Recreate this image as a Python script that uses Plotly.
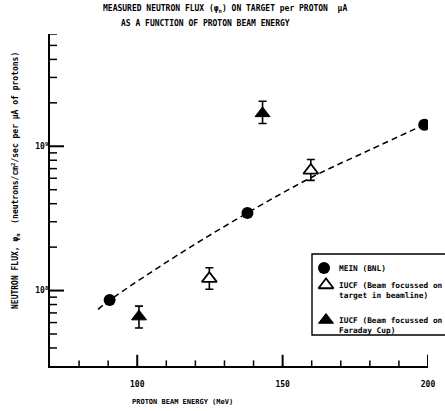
import math
import plotly.graph_objects as go

# ---- data ----
mein_energy = [90.5, 137.9, 198.7]
mein_flux = [8.6e7, 3.45e8, 1.41e9]

iucf_target_energy = [124.8, 159.7]
iucf_target_flux = [1.21e8, 6.8e8]
iucf_target_err_plus = [0.23e8, 1.3e8]
iucf_target_err_minus = [0.19e8, 1.0e8]

iucf_cup_energy = [100.6, 143.1]
iucf_cup_flux = [6.6e7, 1.69e9]
iucf_cup_err_plus = [1.2e7, 0.36e9]
iucf_cup_err_minus = [1.1e7, 0.25e9]

fit_energy = [86.5, 90.5, 115, 137.9, 160, 180, 198.7]
fit_flux = [7.41e7, 8.57e7, 1.82e8, 3.45e8, 6.1e8, 9.44e8, 1.41e9]

legend_labels = [
    ["MEIN (BNL)"],
    ["IUCF (Beam focussed on", "target in beamline)"],
    ["IUCF (Beam focussed on", "Faraday Cup)"],
]

x_major_ticks = [100, 150, 200]
x_minor_ticks = [80, 90, 110, 120, 130, 140, 160, 170, 180, 190]
y_major_ticks = [1e8, 1e9]
y_major_text = ["10<sup>8</sup>", "10<sup>9</sup>"]
y_minor_ticks = [4e7, 5e7, 6e7, 7e7, 8e7, 9e7,
                 2e8, 3e8, 4e8, 5e8, 6e8, 7e8, 8e8, 9e8,
                 2e9, 3e9, 4e9, 5e9, 6e9]

X_RANGE = [70, 200]
Y_MIN, Y_MAX = 3e7, 6e9

# ---- layout geometry (pixels) ----
W, H = 445, 411
L, R, T, B = 50, 17, 34, 45
PW, PH = W - L - R, H - T - B

def px(x):
    return (x - L) / PW

def py(y):
    return (H - B - y) / PH

FONT = "DejaVu Sans Mono"
TICKFONT = dict(family=FONT, size=8, color="black", weight="bold")

circle_marker = dict(symbol="circle", size=12, color="black")
open_tri_marker = dict(symbol="triangle-up", size=13, color="white",
                       line=dict(color="black", width=1.8))
filled_tri_marker = dict(symbol="triangle-up", size=13, color="black",
                         line=dict(color="black", width=1))

fig = go.Figure()

# ---- inward tick marks: line markers centred on the axis, outer half clipped ----
def tick_marks(xs, ys, symbol, length, width):
    fig.add_trace(go.Scatter(
        x=xs, y=ys, mode="markers", cliponaxis=True, showlegend=False,
        hoverinfo="skip",
        marker=dict(symbol=symbol, size=2 * length, color="black",
                    line=dict(color="black", width=width))))

tick_marks([X_RANGE[0]] * len(y_major_ticks), y_major_ticks, "line-ew", 10, 2)
tick_marks([X_RANGE[0]] * len(y_minor_ticks), y_minor_ticks, "line-ew", 5, 1.5)
tick_marks(x_major_ticks, [Y_MIN] * len(x_major_ticks), "line-ns", 8, 2)
tick_marks(x_minor_ticks, [Y_MIN] * len(x_minor_ticks), "line-ns", 4, 1.5)

fig.add_trace(go.Scatter(
    x=fit_energy, y=fit_flux, mode="lines", line_shape="spline",
    line=dict(color="black", width=1.5, dash="6px,4px"),
    showlegend=False, hoverinfo="skip"))

fig.add_trace(go.Scatter(
    x=mein_energy, y=mein_flux, mode="markers", name=legend_labels[0][0],
    marker=circle_marker, showlegend=False))

fig.add_trace(go.Scatter(
    x=iucf_target_energy, y=iucf_target_flux, mode="markers",
    name=" ".join(legend_labels[1]), marker=open_tri_marker, showlegend=False,
    error_y=dict(type="data", symmetric=False, array=iucf_target_err_plus,
                 arrayminus=iucf_target_err_minus, color="black",
                 thickness=1.6, width=4)))

fig.add_trace(go.Scatter(
    x=iucf_cup_energy, y=iucf_cup_flux, mode="markers",
    name=" ".join(legend_labels[2]), marker=filled_tri_marker, showlegend=False,
    error_y=dict(type="data", symmetric=False, array=iucf_cup_err_plus,
                 arrayminus=iucf_cup_err_minus, color="black",
                 thickness=1.6, width=4)))

# ---- hand-drawn legend box (keys on a pixel-mapped overlay axis) ----
key_x = [324, 326, 326]
key_y = [268, 285, 320]
key_markers = [circle_marker, open_tri_marker, filled_tri_marker]
for kx, ky, mk in zip(key_x, key_y, key_markers):
    fig.add_trace(go.Scatter(x=[kx], y=[ky], mode="markers", marker=mk,
                             xaxis="x4", yaxis="y4", showlegend=False,
                             cliponaxis=False, hoverinfo="skip"))

LEG_FONT = 7.8
line_h = 1.3 * LEG_FONT
for labels, ky in zip(legend_labels, key_y):
    text = "<br>".join("<b>" + s + "</b>" for s in labels)
    cy = ky + (len(labels) - 1) * line_h / 2
    fig.add_annotation(text=text, x=px(337.5), y=py(cy),
                       xref="paper", yref="paper", xanchor="left", yanchor="middle",
                       align="left", showarrow=False, borderpad=0,
                       font=dict(family=FONT, size=LEG_FONT, color="black"))

fig.add_shape(type="rect", xref="paper", yref="paper",
              x0=px(312), x1=px(470), y0=py(254), y1=py(335),
              line=dict(color="black", width=1.4), fillcolor="rgba(0,0,0,0)")

fig.update_layout(
    width=W, height=H,
    margin=dict(l=L, r=R, t=T, b=B, autoexpand=False),
    paper_bgcolor="white", plot_bgcolor="white",
    font=dict(family=FONT, size=8, color="black"),
    showlegend=False,
    xaxis=dict(range=X_RANGE, tickmode="array", tickvals=x_major_ticks,
               ticks="", showline=True, linecolor="black", linewidth=2.2,
               showgrid=False, zeroline=False, ticklabelstandoff=9,
               tickfont=TICKFONT),
    yaxis=dict(type="log", range=[math.log10(Y_MIN), math.log10(Y_MAX)],
               tickmode="array", tickvals=y_major_ticks, ticktext=y_major_text,
               ticks="", showline=True, linecolor="black", linewidth=2.2,
               showgrid=False, zeroline=False, ticklabelstandoff=-2,
               tickfont=TICKFONT),
    xaxis4=dict(overlaying="x", range=[L, W - R], visible=False, fixedrange=True),
    yaxis4=dict(overlaying="y", range=[H - B, T], visible=False, fixedrange=True),
)

anns = [
    dict(text="<b>MEASURED NEUTRON FLUX (\u03c6<sub>n</sub>) ON TARGET per PROTON  \u03bcA</b>",
         x=px(225), y=py(9), size=8),
    dict(text="<b>AS A FUNCTION OF PROTON BEAM ENERGY</b>",
         x=px(205), y=py(23), size=8),
    dict(text="<b>PROTON BEAM ENERGY (MeV)</b>",
         x=px(182), y=py(402), size=7),
]
for a in anns:
    fig.add_annotation(text=a["text"], x=a["x"], y=a["y"], xref="paper", yref="paper",
                       xanchor="center", yanchor="middle", showarrow=False,
                       font=dict(family=FONT, size=a["size"], color="black"))

fig.add_annotation(
    text="<b>NEUTRON FLUX, \u03c6<sub>n</sub>  (neutrons/cm<sup>2</sup>/sec per \u03bcA of protons)</b>",
    x=px(16), y=py(181), xref="paper", yref="paper", textangle=-90,
    xanchor="center", yanchor="middle", showarrow=False,
    font=dict(family=FONT, size=8, color="black"))

fig.write_html("out.html", config={"displayModeBar": False},
               post_script="document.body.style.margin='0px';")
